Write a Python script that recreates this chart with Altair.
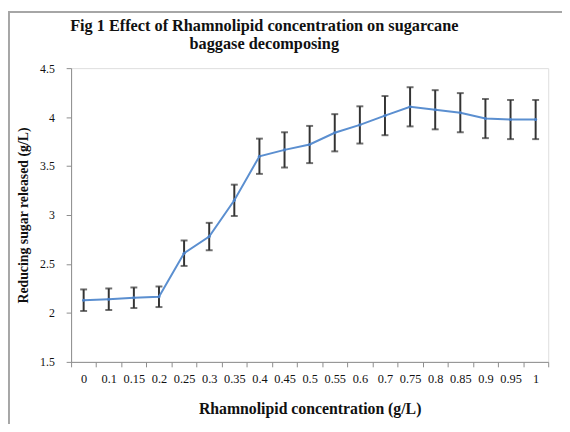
import altair as alt
import pandas as pd

# Data
concentration = ["0", "0.1", "0.15", "0.2", "0.25", "0.3", "0.35", "0.4", "0.45", "0.5",
                 "0.55", "0.6", "0.7", "0.75", "0.8", "0.85", "0.9", "0.95", "1"]
sugar = [2.13, 2.14, 2.155, 2.165, 2.61, 2.78, 3.15, 3.60, 3.665, 3.72,
         3.84, 3.92, 4.015, 4.105, 4.075, 4.045, 3.985, 3.975, 3.975]
err = [0.11, 0.11, 0.105, 0.105, 0.13, 0.14, 0.16, 0.18, 0.18, 0.19,
       0.19, 0.19, 0.20, 0.20, 0.20, 0.20, 0.20, 0.20, 0.20]
y_ticks = [1.5, 2, 2.5, 3, 3.5, 4, 4.5]

df = pd.DataFrame({"conc": concentration, "sugar": sugar, "err": err})
df["lo"] = df["sugar"] - df["err"]
df["hi"] = df["sugar"] + df["err"]

FONT = "Liberation Serif"
GREY = "#8c8c8c"

x_enc = alt.X("conc:N", sort=concentration,
              scale=alt.Scale(type="band", paddingInner=0, paddingOuter=0),
              axis=alt.Axis(title="Rhamnolipid concentration (g/L)", labelAngle=0,
                            tickBand="extent", tickSize=5, tickColor=GREY,
                            domainColor=GREY, labelFont=FONT, labelFontSize=12.5,
                            labelColor="#111", labelPadding=6,
                            titleFont=FONT, titleFontSize=16, titleFontWeight="bold",
                            titleColor="#111", titlePadding=16))
y_scale = alt.Scale(domain=[1.5, 4.5], nice=False, zero=False)
y_axis = alt.Axis(title="Reducing sugar released (g/L)", values=y_ticks, format="~g",
                  grid=False, tickSize=5, tickColor=GREY, domainColor=GREY,
                  labelFont=FONT, labelFontSize=12, labelColor="#111", labelPadding=12,
                  titleFont=FONT, titleFontSize=14, titleFontWeight="bold",
                  titleColor="#111", titlePadding=9)

base = alt.Chart(df)

bars = base.mark_rule(color="#333333", strokeWidth=2).encode(
    x=x_enc, y=alt.Y("lo:Q", scale=y_scale, axis=y_axis), y2="hi:Q")
cap_lo = base.mark_tick(color="#333333", size=7, thickness=2).encode(
    x=alt.X("conc:N", sort=concentration), y=alt.Y("lo:Q"))
cap_hi = base.mark_tick(color="#333333", size=7, thickness=2).encode(
    x=alt.X("conc:N", sort=concentration), y=alt.Y("hi:Q"))
line = base.mark_line(color="#5b8fd0", strokeWidth=2).encode(
    x=alt.X("conc:N", sort=concentration), y=alt.Y("sugar:Q"))
pts = base.mark_point(color="#4a7fc4", filled=True, size=10, opacity=1).encode(
    x=alt.X("conc:N", sort=concentration), y=alt.Y("sugar:Q"))

frame_top = alt.Chart(pd.DataFrame({"a": [0]})).mark_rule(color="#a6a6a6", strokeWidth=2).encode(
    x=alt.value(-64), x2=alt.value(600), y=alt.value(-57))
frame_left = alt.Chart(pd.DataFrame({"a": [0]})).mark_rule(color="#a6a6a6", strokeWidth=2).encode(
    x=alt.value(-63), y=alt.value(-58), y2=alt.value(400))

chart = alt.layer(frame_top, frame_left, bars, cap_lo, cap_hi, line, pts).properties(
    width=484, height=298,
    autosize=alt.AutoSizeParams(type="none"),
    padding={"left": 64, "top": 58, "right": 14, "bottom": 60},
    title=alt.TitleParams(
        text=["Fig 1 Effect of Rhamnolipid concentration on sugarcane", "baggase decomposing"],
        font=FONT, fontSize=16.5, fontWeight="bold", color="#111", anchor="middle",
        dx=-46, dy=57, offset=14, lineHeight=18),
).configure_view(stroke=None).configure(background="white")

chart.save("out.html", embed_options={"renderer": "svg", "actions": False})
